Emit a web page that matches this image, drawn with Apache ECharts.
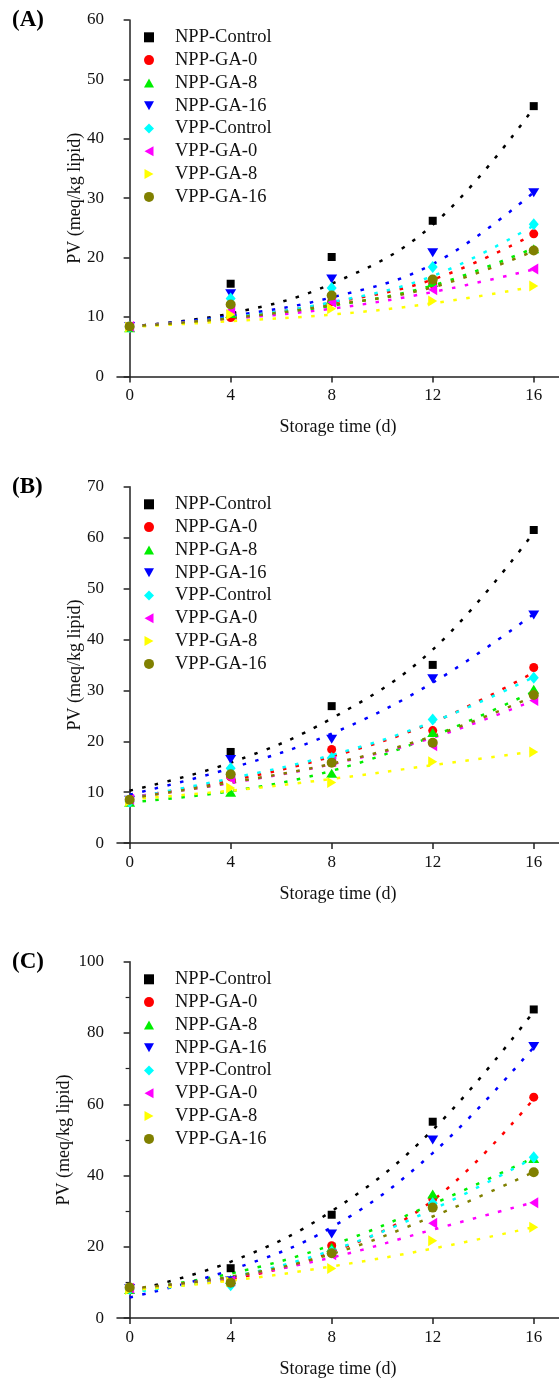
<!DOCTYPE html>
<html>
<head>
<meta charset="utf-8">
<script src="https://cdn.jsdelivr.net/npm/echarts@6/dist/echarts.min.js"></script>
<style>
html,body{margin:0;padding:0;background:#fff;}
#chart{width:559px;height:1380px;}
</style>
</head>
<body>
<div id="chart"></div>
<script>
// ---- data ----
const days = [0, 4, 8, 12, 16];
const xTicks = [0, 4, 8, 12, 16];
const seriesNames = ['NPP-Control', 'NPP-GA-0', 'NPP-GA-8', 'NPP-GA-16', 'VPP-Control', 'VPP-GA-0', 'VPP-GA-8', 'VPP-GA-16'];
const panelLabels = ['(A)', '(B)', '(C)'];
const yMax = [60, 70, 100];
const yInterval = [10, 10, 20];

// Panel A measured values
const markersA = [
  [8.3, 15.6, 20.1, 26.2, 45.5],
  [8.3, 9.9, 12.6, 15.6, 24.0],
  [8.2, 10.6, 13.0, 15.8, 21.5],
  [8.4, 13.9, 16.4, 20.8, 30.9],
  [8.3, 13.1, 14.9, 18.4, 25.6],
  [8.4, 11.1, 12.5, 14.6, 18.1],
  [8.3, 10.4, 11.4, 12.7, 15.2],
  [8.4, 12.1, 13.6, 16.3, 21.2]
];
// Panel A fitted curves (read at each day)
const fitA = [
  [8.4, 10.6, 15.6, 25.5, 45.2],
  [8.4, 9.9, 12.4, 16.3, 23.9],
  [8.4, 9.8, 11.9, 15.3, 21.6],
  [8.4, 10.2, 13.3, 18.9, 31.0],
  [8.4, 9.9, 12.5, 16.9, 25.4],
  [8.4, 9.7, 11.4, 14.2, 18.0],
  [8.3, 9.3, 10.4, 12.3, 15.1],
  [8.4, 9.8, 12.0, 15.0, 21.1]
];
// Panel B
const markersB = [
  [8.4, 17.9, 26.9, 35.0, 61.5],
  [8.3, 13.0, 18.4, 22.1, 34.5],
  [8.0, 10.0, 13.7, 21.7, 30.2],
  [8.4, 16.4, 20.4, 32.3, 44.8],
  [8.1, 14.7, 16.7, 24.3, 32.5],
  [8.6, 12.7, 16.0, 19.1, 28.0],
  [8.2, 10.8, 11.9, 16.0, 17.9],
  [8.5, 13.5, 15.8, 19.7, 29.1]
];
const fitB = [
  [10.3, 15.8, 24.5, 38.0, 61.0],
  [9.0, 12.3, 17.0, 23.7, 33.5],
  [8.0, 10.2, 14.2, 21.0, 29.8],
  [9.5, 14.7, 21.5, 31.5, 45.0],
  [8.8, 12.7, 17.3, 23.8, 32.6],
  [8.9, 11.8, 15.5, 20.7, 28.0],
  [8.6, 10.3, 12.6, 15.3, 18.0],
  [8.8, 11.9, 15.6, 21.0, 28.8]
];
// Panel C
const markersC = [
  [8.5, 14.0, 29.0, 55.1, 86.6],
  [8.5, 10.3, 20.3, 33.5, 62.0],
  [8.0, 10.8, 19.8, 34.8, 44.8],
  [8.3, 10.5, 23.6, 50.0, 76.2],
  [8.2, 9.2, 18.7, 32.2, 45.1],
  [8.4, 10.4, 17.8, 26.6, 32.4],
  [8.0, 10.2, 13.9, 21.7, 25.5],
  [8.6, 9.9, 18.2, 31.0, 40.9]
];
const fitC = [
  [7.5, 15.8, 30.0, 52.8, 86.0],
  [8.3, 11.0, 18.5, 33.0, 61.5],
  [7.8, 12.5, 20.5, 32.0, 45.0],
  [5.8, 13.5, 25.5, 46.3, 76.0],
  [7.2, 11.5, 19.0, 30.5, 45.0],
  [8.1, 11.5, 17.0, 24.8, 32.5],
  [7.8, 10.5, 14.5, 19.5, 25.5],
  [8.3, 11.6, 18.0, 28.5, 41.0]
];

// ---- styles ----
const colors = ['#000000', '#ff0000', '#00ee00', '#0000ff', '#00ffff', '#ff00ff', '#ffff00', '#808000'];
const symbols = [
  'rect', 'circle',
  'path://M5,0 L10,9 L0,9 Z',      // up triangle
  'path://M0,0 L10,0 L5,9 Z',      // down triangle
  'diamond',
  'path://M9,0 L9,10 L0,5 Z',      // left triangle
  'path://M0,0 L0,10 L9,5 Z',      // right triangle
  'circle'
];
const symbolSizes = [[8, 8], [9, 9], [11, 9], [11, 9], [10, 12], [9, 11], [9, 11], [10, 10]];

const FONT = "'Liberation Serif', 'Times New Roman', serif";
const gridTops = [20, 486.7, 961.7];
const gridH = 356.4;
const allMarkers = [markersA, markersB, markersC];
const allFits = [fitA, fitB, fitC];
const legendTops = [22.3, 489.3, 964.3];
const yNameGaps = [33, 33, 44];

const grids = [], xAxes = [], yAxes = [], series = [], legends = [], graphics = [];
for (let p = 0; p < 3; p++) {
  grids.push({ left: 117, top: gridTops[p], width: 456.4, height: gridH });
  xAxes.push({
    gridIndex: p, type: 'value', min: -0.5, max: 17,
    name: 'Storage time (d)', nameLocation: 'middle', nameGap: 42, nameMoveOverlap: false,
    nameTextStyle: { fontFamily: FONT, fontSize: 18, color: '#111' },
    axisLine: { show: true, onZero: false, lineStyle: { color: '#222', width: 1.5 } },
    axisTick: { show: true, inside: false, length: 6, customValues: xTicks, lineStyle: { color: '#222', width: 1.5 } },
    axisLabel: { customValues: xTicks, margin: 11, fontFamily: FONT, fontSize: 17, color: '#111' },
    splitLine: { show: false }
  });
  yAxes.push({
    gridIndex: p, type: 'value', min: 0, max: yMax[p], interval: yInterval[p],
    name: 'PV (meq/kg lipid)', nameLocation: 'middle', nameGap: yNameGaps[p], nameMoveOverlap: false,
    nameTextStyle: { fontFamily: FONT, fontSize: 18, color: '#111' },
    axisLine: { show: true, lineStyle: { color: '#222', width: 1.5 } },
    axisTick: { show: true, inside: false, length: 6, lineStyle: { color: '#222', width: 1.5 } },
    minorTick: { show: p === 2, splitNumber: 2, length: 4, lineStyle: { color: '#222', width: 1.2 } },
    axisLabel: { margin: 13, fontFamily: FONT, fontSize: 17, color: '#111' },
    splitLine: { show: false }
  });
  legends.push({
    data: seriesNames, orient: 'vertical', left: 139, top: legendTops[p],
    itemWidth: 10, itemHeight: 10, itemGap: 2.8, selectedMode: false,
    textStyle: { fontFamily: FONT, fontSize: 18.5, color: '#111', lineHeight: 20, padding: [0, 0, 0, 16] }
  });
  graphics.push({
    type: 'text', left: 12, top: gridTops[p] - 11,
    style: { text: panelLabels[p], font: "bold 23px " + FONT, fill: '#000' }
  });
  for (let s = 0; s < seriesNames.length; s++) {
    series.push({
      name: seriesNames[s] + ' fit', type: 'line', xAxisIndex: p, yAxisIndex: p,
      data: days.map((d, i) => [d, allFits[p][s][i]]),
      smooth: 0.4, showSymbol: false, symbol: 'none', silent: true, z: 1,
      lineStyle: { color: colors[s], width: 2.5, type: [3.5, 9.5] }
    });
  }
  for (let s = 0; s < seriesNames.length; s++) {
    series.push({
      name: seriesNames[s], type: 'scatter', xAxisIndex: p, yAxisIndex: p,
      data: days.map((d, i) => [d, allMarkers[p][s][i]]),
      symbol: symbols[s], symbolSize: symbolSizes[s],
      itemStyle: { color: colors[s], opacity: 1 }, z: 2 + s
    });
  }
}

const chart = echarts.init(document.getElementById('chart'), null, { renderer: 'canvas' });
chart.setOption({
  animation: false,
  backgroundColor: '#fff',
  color: colors,
  grid: grids, xAxis: xAxes, yAxis: yAxes,
  legend: legends,
  graphic: graphics,
  series: series
});
</script>
</body>
</html>
